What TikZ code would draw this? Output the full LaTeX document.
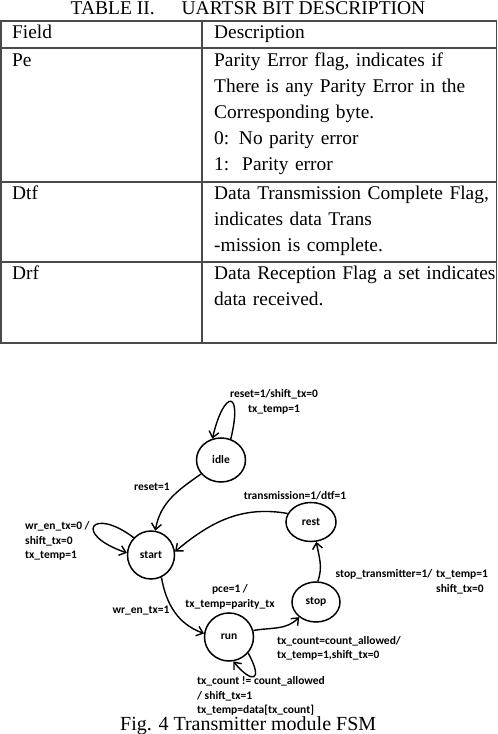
\documentclass[tikz,border=0pt]{standalone}
\usepackage{fontspec}
\setmainfont{Liberation Serif}
\newfontfamily\diagfont{Carlito}
\usepackage{xcolor}
\usepackage{tikz}
\usetikzlibrary{positioning,arrows.meta,shapes.geometric}
\definecolor{ink}{HTML}{000000}
\definecolor{rule}{HTML}{4a4a4a}

\begin{document}
\begin{tikzpicture}[x=1pt,y=1pt,
  cell/.style={anchor=base west,inner sep=0pt,text width=#1,align=left,font=\fontsize{19.4}{26}\selectfont},
  grid/.style={draw=rule,line width=1.1pt},
  state/.style={draw=ink,ellipse,line width=1.5pt,inner sep=0pt,font=\diagfont\bfseries\fontsize{11.5}{14.5}\selectfont},
  lbl/.style={inner sep=0pt,font=\diagfont\bfseries\fontsize{11.5}{14.5}\selectfont},
  arr/.style={-{Straight Barb[length=6pt,width=10pt]},line width=1.4pt,draw=ink}]
  \useasboundingbox (0,0) rectangle (498,734);
  % table
  \node[anchor=base,inner sep=0pt,font=\fontsize{19.5}{24}\selectfont] (title) at (248,719.5) {TABLE II.\hspace{27pt}UARTSR BIT DESCRIPTION};
  \draw[grid] (1,713) rectangle (496.5,391);
  \draw[grid] (202,713) -- (202,391);
  \foreach \y in {686,552,472} \draw[grid] (1,\y) -- (496.5,\y);
  \node[cell=180pt] (f0) at (12,695) {Field};
  \node[cell=290pt] (d0) at (214,695) {Description};
  \node[cell=180pt] (f1) at (12,667) {Pe};
  \node[cell=290pt] (d1) at (214,667) {Parity Error flag, indicates if\\There is any Parity Error in the\\Corresponding byte.\\0: No parity error\\1:\ \ Parity error};
  \node[cell=180pt] (f2) at (12,534) {Dtf};
  \node[cell=290pt] (d2) at (214,534) {Data Transmission Complete Flag,\\indicates data Trans\\-mission is complete.};
  \node[cell=180pt] (f3) at (12,454) {Drf};
  \node[cell=290pt] (d3) at (214,454) {Data Reception Flag a set indicates\\data received.};
  % fsm
  \node[state,minimum width=49pt,minimum height=44pt] (idle) at (221,274) {idle};
  \node[state,minimum width=50pt,minimum height=39pt] (rest) at (311,212) {rest};
  \node[state,minimum width=47pt,minimum height=48pt] (start) at (151,179) {start};
  \node[state,minimum width=48pt,minimum height=40pt] (stop) at (316,132) {stop};
  \node[state,minimum width=49pt,minimum height=48pt] (run) at (229,97) {run};
  \draw[arr] (idle.65) .. controls (243,345) and (224,345) .. (idle.112);
  \draw[arr] (idle.215) to[out=215,in=80] (start.80);
  \draw[arr] (rest.160) to[out=170,in=40] (start.8);
  \draw[arr] (start.135) .. controls (92,228) and (72,200) .. (start.175);
  \draw[arr] (start.295) to[out=-80,in=160] (run.172);
  \draw[arr] (run.15) to[out=10,in=225] (stop.222);
  \draw[arr] (stop.85) to[out=70,in=-80] (rest.285);
  \draw[arr] (run.-40) .. controls (264,52) and (252,50) .. (run.-80);
  \node[lbl,align=center] (l-idle) at (274,332) {reset=1/shift\_tx=0\\tx\_temp=1};
  \node[lbl] (l-reset) at (152,247) {reset=1};
  \node[lbl] (l-trans) at (295,238) {transmission=1/dtf=1};
  \node[lbl,align=left,anchor=west] (l-wait) at (25,193) {wr\_en\_tx=0 /\\shift\_tx=0\\tx\_temp=1};
  \node[lbl] (l-wr) at (141,123) {wr\_en\_tx=1};
  \node[lbl,align=center] (l-pce) at (230,137) {pce=1 /\\tx\_temp=parity\_tx};
  \node[lbl] (l-stoptx) at (384,160) {stop\_transmitter=1/};
  \node[lbl,align=left,anchor=west] (l-stopset) at (436,152) {tx\_temp=1\\shift\_tx=0};
  \node[lbl,align=left,anchor=west] (l-done) at (277,85.5) {tx\_count=count\_allowed/\\tx\_temp=1,shift\_tx=0};
  \node[lbl,align=left,anchor=west] (l-shift) at (197,38) {tx\_count != count\_allowed\\/ shift\_tx=1\\tx\_temp=data[tx\_count]};
  \node[anchor=base west,inner sep=0pt,font=\fontsize{20}{24}\selectfont] (caption) at (120,3) {Fig. 4 Transmitter module FSM};
\end{tikzpicture}
\end{document}
